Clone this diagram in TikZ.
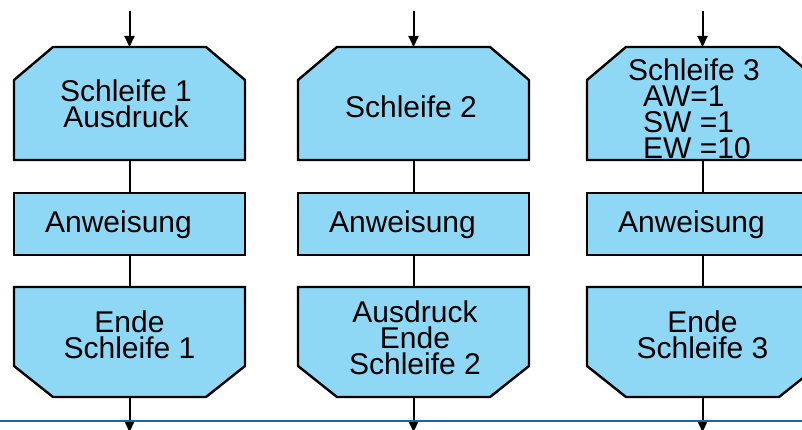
\documentclass[tikz,border=0pt]{standalone}
\usepackage{fontspec}
\setmainfont{Liberation Sans}
\usetikzlibrary{arrows.meta,positioning,calc}

\definecolor{kasten}{RGB}{143,216,245}
\definecolor{trenn}{RGB}{21,101,166}

\begin{document}
\begin{tikzpicture}[x=1pt,y=-1pt,
  >={Triangle[length=11pt,width=10pt]},
  feld/.style={minimum width=231pt, inner sep=0pt, outer sep=0pt},
  rahmen/.style={draw=black, line width=2.4pt, fill=kasten},
  txt/.style={inner sep=0pt, align=center, font=\fontsize{30}{26}\selectfont},
  linie/.style={line width=2pt}]
\useasboundingbox (0,0) rectangle (802,430);

\node[feld,minimum height=113pt,name=s1] at (129.5,103.5) {};
\node[feld,minimum height=113pt,name=s2] at (413.5,103.5) {};
\node[feld,minimum height=113pt,name=s3] at (702.5,103.5) {};

\node[feld,rahmen,minimum height=62pt,name=a1] at (129.5,224) {};
\node[feld,rahmen,minimum height=62pt,name=a2] at (413.5,224) {};
\node[feld,rahmen,minimum height=62pt,name=a3] at (702.5,224) {};

\node[feld,minimum height=110pt,name=e1] at (129.5,342) {};
\node[feld,minimum height=110pt,name=e2] at (413.5,342) {};
\node[feld,minimum height=110pt,name=e3] at (702.5,342) {};

\filldraw[rahmen] ([yshift=-33pt]s1.north west) -- ([xshift=39pt]s1.north west) -- ([xshift=-39pt]s1.north east) -- ([yshift=-33pt]s1.north east) -- (s1.south east) -- (s1.south west) -- cycle;
\filldraw[rahmen] ([yshift=-33pt]s2.north west) -- ([xshift=39pt]s2.north west) -- ([xshift=-39pt]s2.north east) -- ([yshift=-33pt]s2.north east) -- (s2.south east) -- (s2.south west) -- cycle;
\filldraw[rahmen] ([yshift=-33pt]s3.north west) -- ([xshift=39pt]s3.north west) -- ([xshift=-39pt]s3.north east) -- ([yshift=-33pt]s3.north east) -- (s3.south east) -- (s3.south west) -- cycle;

\filldraw[rahmen] (e1.north west) -- (e1.north east) -- ([yshift=31pt]e1.south east) -- ([xshift=-39pt]e1.south east) -- ([xshift=39pt]e1.south west) -- ([yshift=31pt]e1.south west) -- cycle;
\filldraw[rahmen] (e2.north west) -- (e2.north east) -- ([yshift=31pt]e2.south east) -- ([xshift=-39pt]e2.south east) -- ([xshift=39pt]e2.south west) -- ([yshift=31pt]e2.south west) -- cycle;
\filldraw[rahmen] (e3.north west) -- (e3.north east) -- ([yshift=31pt]e3.south east) -- ([xshift=-39pt]e3.south east) -- ([xshift=39pt]e3.south west) -- ([yshift=31pt]e3.south west) -- cycle;

\node[txt,anchor=north,name=s1t] at ([xshift=-3.5pt,yshift=-33pt]s1.north) {Schleife 1\\Ausdruck};
\node[txt,anchor=base,name=s2t] at ([xshift=-2.5pt,yshift=-71pt]s2.north) {Schleife 2};
\node[txt,anchor=north west,align=left,name=s3t] at ([xshift=-74.5pt,yshift=-12pt]s3.north) {Schleife 3\\\hspace*{15pt}AW=1\\\hspace*{15pt}SW =1\\\hspace*{15pt}EW =10};

\node[txt,anchor=base,name=a1t] at ([xshift=-11pt,yshift=-9pt]a1.center) {Anweisung};
\node[txt,anchor=base,name=a2t] at ([xshift=-11pt,yshift=-9pt]a2.center) {Anweisung};
\node[txt,anchor=base,name=a3t] at ([xshift=-11pt,yshift=-9pt]a3.center) {Anweisung};

\node[txt,anchor=north,name=e1t] at ([yshift=-23.5pt]e1.north) {Ende\\Schleife 1};
\node[txt,anchor=north,name=e2t] at ([xshift=1.5pt,yshift=-13.5pt]e2.north) {Ausdruck\\Ende\\Schleife 2};
\node[txt,anchor=north,name=e3t] at ([yshift=-23.5pt]e3.north) {Ende\\Schleife 3};

\coordinate (in1) at ([yshift=36pt]s1.north);
\coordinate (in2) at ([yshift=36pt]s2.north);
\coordinate (in3) at ([yshift=36pt]s3.north);
\coordinate (out1) at ([yshift=-35pt]e1.south);
\coordinate (out2) at ([yshift=-35pt]e2.south);
\coordinate (out3) at ([yshift=-35pt]e3.south);

\draw[linie,->] (in1) -- (s1);
\draw[linie,->] (in2) -- (s2);
\draw[linie,->] (in3) -- (s3);
\draw[linie] (s1) -- (a1);
\draw[linie] (s2) -- (a2);
\draw[linie] (s3) -- (a3);
\draw[linie] (a1) -- (e1);
\draw[linie] (a2) -- (e2);
\draw[linie] (a3) -- (e3);
\draw[linie,->] (e1) -- (out1);
\draw[linie,->] (e2) -- (out2);
\draw[linie,->] (e3) -- (out3);

%\draw[trenn] (0,421) -- (802,421);
\draw[trenn,line width=2pt] (0,421) -- (802,421);
\end{tikzpicture}
\end{document}
